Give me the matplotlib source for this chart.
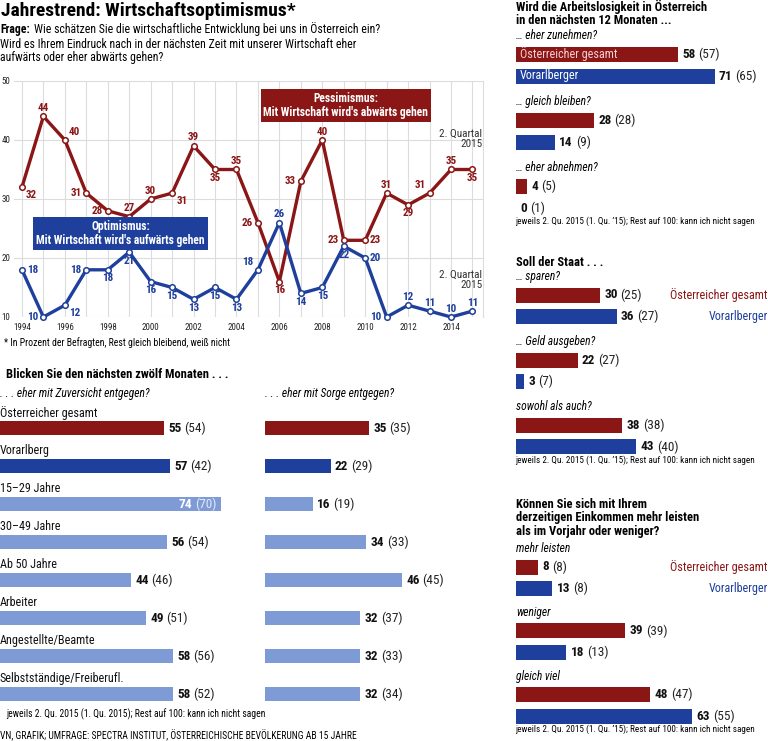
import matplotlib.pyplot as plt
from matplotlib import font_manager

# --- Daten: Jahrestrend ---
jahre = list(range(1994, 2016))
pessimismus = [32, 44, 40, 31, 28, 27, 30, 31, 39, 35, 35, 26, 16, 33, 40, 23, 23, 31, 29, 31, 35, 35]
optimismus = [18, 10, 12, 18, 18, 21, 16, 15, 13, 15, 13, 18, 26, 14, 15, 22, 20, 10, 12, 11, 10, 11]
jahr_labels = list(range(1994, 2015, 2))
y_ticks = [10, 20, 30, 40, 50]

# --- Daten: Blicken Sie den nächsten zwölf Monaten ---
gruppen = ['Österreicher gesamt', 'Vorarlberg', '15–29 Jahre', '30–49 Jahre', 'Ab 50 Jahre',
           'Arbeiter', 'Angestellte/Beamte', 'Selbstständige/Freiberufl.']
zuversicht = [55, 57, 74, 56, 44, 49, 58, 58]
zuversicht_vq = [54, 42, 70, 54, 46, 51, 56, 52]
sorge = [35, 22, 16, 34, 46, 32, 32, 32]
sorge_vq = [35, 29, 19, 33, 45, 37, 33, 34]

# --- Daten: rechte Spalte ---
arbeit_fragen = ['… eher zunehmen?', '… gleich bleiben?', '… eher abnehmen?']
arbeit_oe = [58, 28, 4]
arbeit_oe_vq = [57, 28, 5]
arbeit_vbg = [71, 14, 0]
arbeit_vbg_vq = [65, 9, 1]

staat_fragen = ['… sparen?', '… Geld ausgeben?', 'sowohl als auch?']
staat_oe = [30, 22, 38]
staat_oe_vq = [25, 27, 38]
staat_vbg = [36, 3, 43]
staat_vbg_vq = [27, 7, 40]

eink_fragen = ['mehr leisten', 'weniger', 'gleich viel']
eink_oe = [8, 39, 48]
eink_oe_vq = [8, 39, 47]
eink_vbg = [13, 18, 63]
eink_vbg_vq = [8, 13, 55]

# label placement for the line chart values
pess_pos = ['rb', 'a', 'ra', 'l', 'l', 'a', 'a', 'rb', 'a', 'b', 'a', 'l', 'b', 'l', 'a', 'l', 'r',
            'a', 'b', 'la', 'a', 'b']
opt_pos = ['r', 'l', 'rb', 'l', 'b', 'b', 'b', 'b', 'b', 'b', 'b', 'la', 'a', 'b', 'b', 'b', 'r',
           'l', 'a', 'a', 'a', 'a']

ROT = '#8b1616'
BLAU = '#1e3f9c'
HELL = '#7f9bd5'

names = {f.name for f in font_manager.fontManager.ttflist}
font = next((n for n in ['Liberation Sans Narrow', 'Roboto Condensed', 'Roboto'] if n in names),
            'DejaVu Sans')
plt.rcParams['font.family'] = font

W, H = 768, 741
fig = plt.figure(figsize=(W / 100, H / 100), dpi=100)
fig.patch.set_facecolor('white')

bg = fig.add_axes([0, 0, 1, 1], zorder=-1)
bg.set_xlim(0, W)
bg.set_ylim(H, 0)
bg.axis('off')


def px_axes(x0, y0, x1, y1):
    ax = fig.add_axes([x0 / W, 1 - y1 / H, (x1 - x0) / W, (y1 - y0) / H])
    ax.patch.set_alpha(0)
    return ax


def wert(ax, v, y, vq, fs=8, inside=False):
    if inside:
        t2 = ax.annotate(f'({vq})', (v, y), xytext=(-3, 0), textcoords='offset points',
                         ha='right', va='center', fontsize=fs, color='#e4eaf7', annotation_clip=False)
        ax.annotate(f'{v}', xy=(0, 0.5), xycoords=t2, xytext=(-2, 0), textcoords='offset points',
                    ha='right', va='center', fontsize=fs, fontweight='bold', color='white')
    else:
        t1 = ax.annotate(f'{v}', (v, y), xytext=(3, 0), textcoords='offset points',
                         ha='left', va='center', fontsize=fs, fontweight='bold', color='#111',
                         annotation_clip=False)
        ax.annotate(f'({vq})', xy=(1, 0.5), xycoords=t1, xytext=(2, 0), textcoords='offset points',
                    ha='left', va='center', fontsize=fs, color='#222')


# --- Kopf ---
bg.text(1, 11, 'Jahrestrend: Wirtschaftsoptimismus*', fontsize=14, fontweight='bold', va='center')
t = bg.text(0, 29, 'Frage:', fontsize=8.5, fontweight='bold', va='center')
bg.annotate('Wie schätzen Sie die wirtschaftliche Entwicklung bei uns in Österreich ein?',
            xy=(1, 0.5), xycoords=t, xytext=(3, 0), textcoords='offset points', va='center', fontsize=8.5)
bg.text(0, 44, 'Wird es Ihrem Eindruck nach in der nächsten Zeit mit unserer Wirtschaft eher',
        fontsize=8.5, va='center')
bg.text(0, 58, 'aufwärts oder eher abwärts gehen?', fontsize=8.5, va='center')

# --- Liniendiagramm ---
ax = px_axes(14, 81, 483, 317)
ax.set_xlim(1993.63, 2015.49)
ax.set_ylim(10, 50)
ax.set_xticks(jahr_labels)
ax.set_xticks(jahre, minor=True)
ax.set_yticks(y_ticks)
ax.grid(True, which='both', color='#dcdcdc', lw=0.8)
ax.set_axisbelow(True)
for s in ['top', 'left', 'bottom']:
    ax.spines[s].set_visible(False)
ax.spines['right'].set_color('#dcdcdc')
ax.tick_params(which='both', length=0, labelsize=6.5, labelcolor='#222')
ax.tick_params(axis='x', pad=4)
ax.tick_params(axis='y', pad=0)
for lab in ax.get_yticklabels():
    lab.set_horizontalalignment('left')
    lab.set_x(-0.027)

ax.plot(jahre, pessimismus, color=ROT, lw=2.4, marker='o', ms=4, mfc='white', mew=1.1,
        clip_on=False, zorder=3)
ax.plot(jahre, optimismus, color=BLAU, lw=2.4, marker='o', ms=4, mfc='white', mew=1.1,
        clip_on=False, zorder=3)

offs = {'a': ((0, 2.5), 'center', 'bottom'), 'b': ((0, -2.5), 'center', 'top'),
        'l': ((-3.5, 0), 'right', 'center'), 'r': ((3.5, 0), 'left', 'center'),
        'la': ((-3, 2), 'right', 'bottom'), 'ra': ((3, 2), 'left', 'bottom'),
        'rb': ((3, -2), 'left', 'top')}
for serie, pos, col in [(pessimismus, pess_pos, ROT), (optimismus, opt_pos, BLAU)]:
    for j, v, p in zip(jahre, serie, pos):
        o, ha, va = offs[p]
        ax.annotate(str(v), (j, v), xytext=o, textcoords='offset points', ha=ha, va=va,
                    fontsize=8, fontweight='bold', color=col, annotation_clip=False, zorder=4)

ax.text(2009.1, 45.8, "Pessimismus:\nMit Wirtschaft wird's abwärts gehen", ha='center', va='center',
        fontsize=8.3, fontweight='bold', color='white', linespacing=1.1, zorder=5,
        bbox=dict(boxstyle='square,pad=0.25', fc=ROT, ec='none'))
ax.text(1998.6, 24.1, "Optimismus:\nMit Wirtschaft wird's aufwärts gehen", ha='center', va='center',
        fontsize=8.3, fontweight='bold', color='white', linespacing=1.1, zorder=5,
        bbox=dict(boxstyle='square,pad=0.25', fc=BLAU, ec='none'))
ax.text(2015.45, 40.2, '2. Quartal\n2015', ha='right', va='center', fontsize=8, color='#333',
        linespacing=1.1)
ax.text(2015.45, 16.3, '2. Quartal\n2015', ha='right', va='center', fontsize=8, color='#333',
        linespacing=1.1)

bg.text(4, 343, '* In Prozent der Befragten, Rest gleich bleibend, weiß nicht', fontsize=7, va='center')

# --- Blicken Sie den nächsten zwölf Monaten ---
bg.text(6, 374, 'Blicken Sie den nächsten zwölf Monaten . . .', fontsize=9, fontweight='bold',
        va='center')
bg.text(0, 394, '. . . eher mit Zuversicht entgegen?', fontsize=8.3, style='italic', va='center')
bg.text(265, 394, '. . . eher mit Sorge entgegen?', fontsize=8.3, style='italic', va='center')

farben = [ROT, BLAU] + [HELL] * 6
for x0, x1, werte, vq, mit_namen in [(0, 260, zuversicht, zuversicht_vq, True),
                                     (265, 500, sorge, sorge_vq, False)]:
    axb = px_axes(x0, 409, x1, 713)
    axb.set_xlim(0, (x1 - x0) / 2.98)
    axb.set_ylim(7.5, -0.5)
    axb.axis('off')
    axb.barh(range(len(gruppen)), werte, height=0.38, color=farben)
    for i, (v, p) in enumerate(zip(werte, vq)):
        if mit_namen:
            axb.text(0, i - 0.4, gruppen[i], fontsize=8.7, va='center', color='#111')
        wert(axb, v, i, p, fs=9.5, inside=v > 65)

bg.text(6, 714, 'jeweils 2. Qu. 2015 (1. Qu. 2015); Rest auf 100: kann ich nicht sagen', fontsize=6.9,
        va='center')
bg.text(0, 735, 'VN, GRAFIK; UMFRAGE: SPECTRA INSTITUT, ÖSTERREICHISCHE BEVÖLKERUNG AB 15 JAHRE',
        fontsize=6.9, va='center')


# --- rechte Spalte ---
def block(c0, s, fragen, oe, oe_vq, vbg, vbg_vq, legende, namen_im_balken=False):
    axr = px_axes(516, c0 - 0.5 * s, 768, c0 + 7.5 * s)
    axr.set_xlim(0, 252 / 2.8)
    axr.set_ylim(7.5, -0.5)
    axr.axis('off')
    h = 15 / s
    for k, frage in enumerate(fragen):
        y1, y2 = 3 * k, 3 * k + 1
        axr.text(0, y1 - 0.85, frage, fontsize=8.3, style='italic', va='center')
        axr.barh(y1, oe[k], height=h, color=ROT)
        axr.barh(y2, vbg[k], height=h, color=BLAU)
        wert(axr, oe[k], y1, oe_vq[k], fs=9.5)
        wert(axr, vbg[k], y2, vbg_vq[k], fs=9.5)
    if namen_im_balken:
        axr.text(1.3, 0, 'Österreicher gesamt', fontsize=8.7, color='#f6cfcf', va='center')
        axr.text(1.3, 1, 'Vorarlberger', fontsize=8.7, color='white', va='center')
    if legende:
        axr.annotate('Österreicher gesamt', (1.0, 0), xycoords=('axes fraction', 'data'),
                     ha='right', va='center', fontsize=8.7, color=ROT, annotation_clip=False)
        axr.annotate('Vorarlberger', (1.0, 1), xycoords=('axes fraction', 'data'),
                     ha='right', va='center', fontsize=8.7, color=BLAU, annotation_clip=False)
    axr.text(-0.3, 7.6, 'jeweils 2. Qu. 2015 (1. Qu. ’15); Rest auf 100: kann ich nicht sagen',
             fontsize=6.6, va='center')


bg.text(516, 7, 'Wird die Arbeitslosigkeit in Österreich', fontsize=9, fontweight='bold', va='center')
bg.text(516, 21, 'in den nächsten 12 Monaten ...', fontsize=9, fontweight='bold', va='center')
block(54, 22, arbeit_fragen, arbeit_oe, arbeit_oe_vq, arbeit_vbg, arbeit_vbg_vq, False, True)

bg.text(516, 263, 'Soll der Staat . . .', fontsize=9, fontweight='bold', va='center')
block(295, 21.7, staat_fragen, staat_oe, staat_oe_vq, staat_vbg, staat_vbg_vq, True)

bg.text(516, 505, 'Können Sie sich mit Ihrem', fontsize=9, fontweight='bold', va='center')
bg.text(516, 518, 'derzeitigen Einkommen mehr leisten', fontsize=9, fontweight='bold', va='center')
bg.text(516, 531, 'als im Vorjahr oder weniger?', fontsize=9, fontweight='bold', va='center')
block(567, 21.3, eink_fragen, eink_oe, eink_oe_vq, eink_vbg, eink_vbg_vq, True)

fig.savefig('out.png', dpi=100)
